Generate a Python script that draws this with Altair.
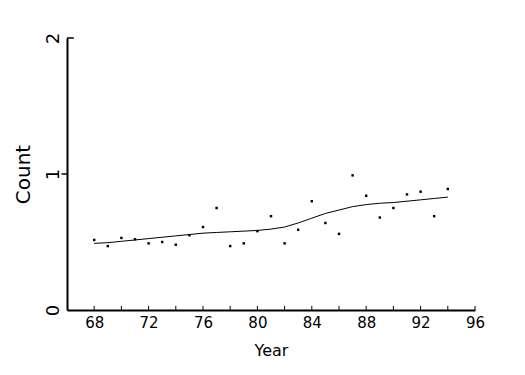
import altair as alt
import pandas as pd

years = list(range(68, 95))
counts = [0.515, 0.47, 0.53, 0.52, 0.49, 0.50, 0.48, 0.55, 0.61, 0.75,
          0.47, 0.49, 0.58, 0.69, 0.49, 0.59, 0.80, 0.64, 0.56, 0.99,
          0.84, 0.68, 0.75, 0.85, 0.87, 0.69, 0.89]
smooth = [0.49, 0.495, 0.505, 0.515, 0.525, 0.535, 0.545, 0.555, 0.565, 0.57,
          0.575, 0.58, 0.585, 0.595, 0.61, 0.64, 0.675, 0.71, 0.735, 0.76,
          0.775, 0.785, 0.79, 0.80, 0.81, 0.82, 0.83]
xticks = list(range(68, 97, 2))
xlabels = [68, 72, 76, 80, 84, 88, 92, 96]
ylabels = [0, 1, 2]

df = pd.DataFrame({"Year": years, "Count": counts, "Smooth": smooth})
ticks_df = pd.DataFrame({"t": xticks, "y0": [0.0] * len(xticks), "y1": [0.03] * len(xticks)})
yticks_df = pd.DataFrame({"v": [1.0, 2.0], "x0": [65.6, 66.0], "x1": [66.0, 66.5]})

FONT = "DejaVu Sans"
xs = alt.Scale(domain=[66, 96], nice=False, zero=False)
ys = alt.Scale(domain=[0, 2], nice=False)

xaxis = alt.Axis(values=xlabels, title="Year", grid=False, ticks=False, format="d",
                 domainColor="black", domainWidth=2, labelFont=FONT, labelFontSize=15,
                 labelColor="black", labelPadding=5,
                 titleFont=FONT, titleFontSize=16, titleFontWeight="normal", titleColor="black",
                 titlePadding=12, labelFlush=False, labelOverlap=False)
yaxis = alt.Axis(values=ylabels, title="Count", grid=False, ticks=False,
                 labelExpr="'' + round(datum.value)",
                 domainColor="black", domainWidth=2, labelFont=FONT, labelFontSize=18,
                 labelColor="black", labelAngle=270,
                 labelPadding=5,
                 titleFont=FONT, titleFontSize=20, titleFontWeight="normal", titleColor="black",
                 titlePadding=11, labelFlush=False, labelOverlap=False)

pts = alt.Chart(df).mark_square(size=6, color="black", opacity=1).encode(
    x=alt.X("Year:Q", scale=xs, axis=xaxis),
    y=alt.Y("Count:Q", scale=ys, axis=yaxis),
)
line = alt.Chart(df).mark_line(color="black", strokeWidth=1).encode(
    x=alt.X("Year:Q", scale=xs),
    y=alt.Y("Smooth:Q", scale=ys),
)
tk = alt.Chart(ticks_df).mark_rule(color="black", strokeWidth=1).encode(
    x=alt.X("t:Q", scale=xs),
    y=alt.Y("y0:Q", scale=ys),
    y2="y1:Q",
)
ytk = alt.Chart(yticks_df).mark_rule(color="black", strokeWidth=1.5).encode(
    y=alt.Y("v:Q", scale=ys),
    x=alt.X("x0:Q", scale=xs),
    x2="x1:Q",
)

chart = alt.layer(tk, ytk, line, pts).properties(
    width=408, height=272,
    autosize=alt.AutoSizeParams(type="none"),
    padding={"left": 59, "top": 30, "right": 30, "bottom": 50},
    background="white",
).configure_view(stroke=None)

chart.save("out.html", embed_options={"renderer": "svg", "actions": False})
